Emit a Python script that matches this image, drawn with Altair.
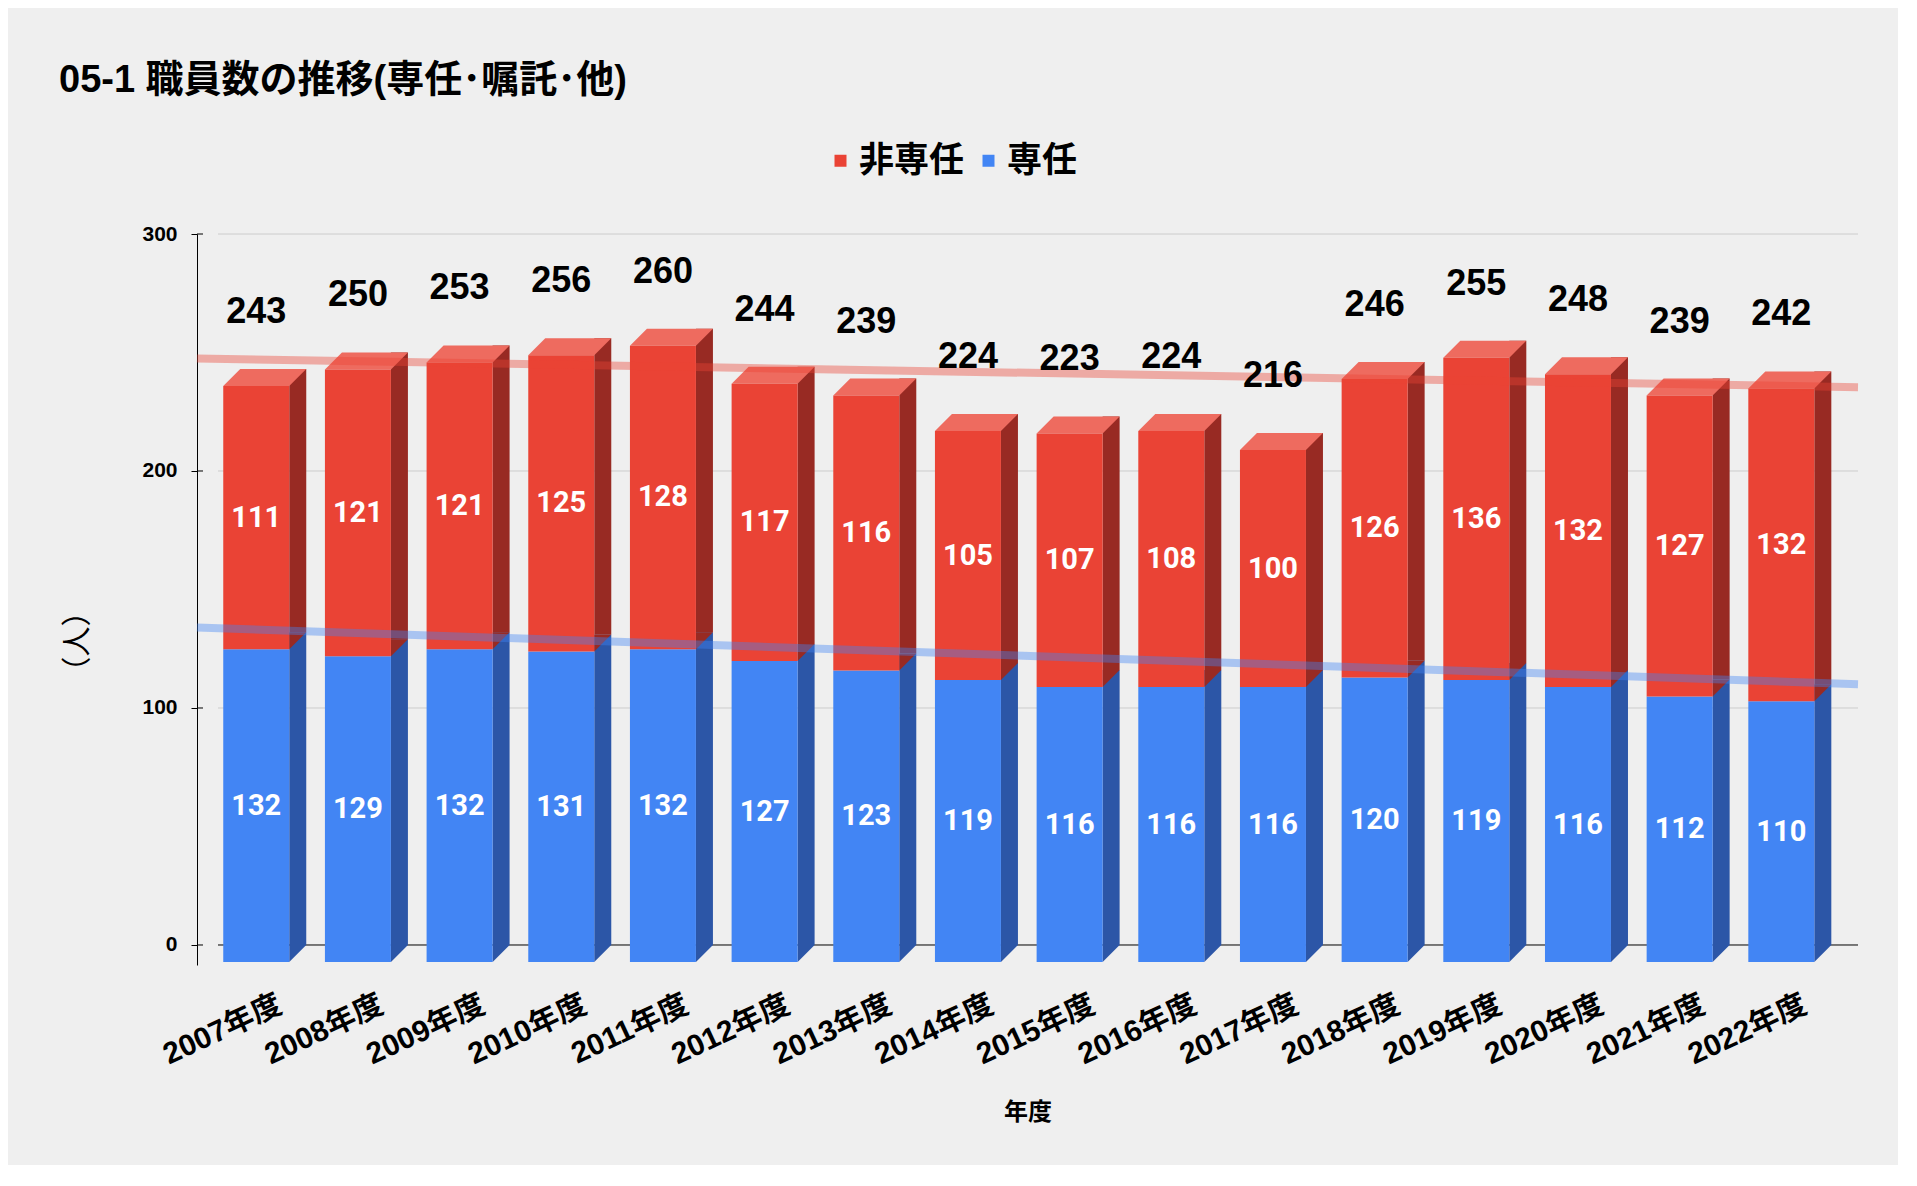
import json
import altair as alt
import pandas as pd

# ---- data ----
years = ["2007年度", "2008年度", "2009年度", "2010年度", "2011年度", "2012年度",
         "2013年度", "2014年度", "2015年度", "2016年度", "2017年度", "2018年度",
         "2019年度", "2020年度", "2021年度", "2022年度"]
full_time = [132, 129, 132, 131, 132, 127, 123, 119, 116, 116, 116, 120, 119, 116, 112, 110]   # 専任
part_time = [111, 121, 121, 125, 128, 117, 116, 105, 107, 108, 100, 126, 136, 132, 127, 132]   # 非専任
series_names = ["非専任", "専任"]
title_text = "05-1 職員数の推移(専任･嘱託･他)"
y_title = "（人）"
x_title = "年度"
y_ticks = [0, 100, 200, 300]

# ---- tables built from the arrays ----
idx = list(range(len(years)))
totals = [a + b for a, b in zip(full_time, part_time)]
wide = pd.DataFrame({"idx": idx, "year": years, "full": full_time,
                     "part": part_time, "total": totals})
rows = []
for i, (f, p) in enumerate(zip(full_time, part_time)):
    rows.append({"idx": i, "series": "専任", "lo": 0, "hi": f, "mid": f / 2, "value": f})
    rows.append({"idx": i, "series": "非専任", "lo": f, "hi": f + p, "mid": f + p / 2, "value": p})
long = pd.DataFrame(rows)
grid_df = pd.DataFrame({"v": y_ticks})

# ---- styling ----
LATIN = "Liberation Sans, Noto Sans CJK JP"
RED, BLUE = "#EA4335", "#4285F4"
RED_SIDE, BLUE_SIDE = "#982A23", "#2C56A7"
RED_TOP = "#EE6B5F"
X_EXT = [-0.75, 15.587]
W, H = 1661, 731

xs = alt.Scale(domain=X_EXT, nice=False, zero=False)
ys = alt.Scale(domain=[-8.44, 300], nice=False, zero=False)

label_expr = json.dumps(years, ensure_ascii=False) + "[datum.value]"

xaxis = alt.Axis(values=idx, labelExpr=label_expr, labelAngle=335, labelAlign="right",
                 labelBaseline="top", labelFont=LATIN, labelFontSize=30,
                 labelFontWeight="bold", labelColor="black", labelPadding=24,
                 labelOverlap=False, labelFlush=False, labelBound=False,
                 domain=False, ticks=False, tickSize=0, grid=False,
                 title=x_title, titleFont=LATIN, titleFontSize=24, titleFontWeight="bold",
                 titleColor="black", titleY=147, titleBaseline="middle")
yaxis = alt.Axis(values=y_ticks, title=y_title, titleFont=LATIN, titleFontSize=30,
                 titleFontWeight="normal", titleColor="black", titleAngle=270,
                 titleX=-120, titleY=407, titleAlign="center", titleBaseline="middle",
                 labelFont=LATIN, labelFontSize=21, labelFontWeight="bold",
                 labelColor="black", labelPadding=14, tickSize=6, tickColor="black",
                 domainColor="black", domainWidth=1, grid=False)


def X():
    return alt.X("idx:Q", scale=xs, axis=xaxis)


def Y(field):
    return alt.Y(field, scale=ys, axis=yaxis)


grid = alt.Chart(grid_df).mark_rule(strokeWidth=1).encode(
    y=Y("v:Q"), x=alt.value(21), x2=alt.value(W),
    color=alt.condition("datum.v === 0", alt.value("black"), alt.value("#CCCCCC")),
)
inner_ticks = alt.Chart(grid_df).mark_rule(strokeWidth=1, color="black").encode(
    y=Y("v:Q"), x=alt.value(0), x2=alt.value(6))

side = alt.Chart(long).mark_rect(xOffset=16, x2Offset=33).encode(
    x=X(), x2="idx:Q",
    y=Y("hi:Q"), y2="lo:Q",
    color=alt.Color("series:N", scale=alt.Scale(domain=series_names, range=[RED_SIDE, BLUE_SIDE]), legend=None),
)

tri = alt.Chart(long).mark_point(shape="M -1 -1 L 1 -1 L -1 1 Z", size=289, filled=True,
                                 opacity=1, strokeWidth=0, xOffset=24.5, yOffset=8.5).encode(
    x=X(), y=Y("lo:Q"),
    color=alt.Color("series:N", scale=alt.Scale(domain=series_names, range=[RED_SIDE, BLUE_SIDE]), legend=None),
)

top = alt.Chart(wide).mark_point(
    shape="M -1 0.2048 L -0.5904 -0.2048 L 1 -0.2048 L 0.5904 0.2048 Z", size=6889,
    filled=True, opacity=1, strokeWidth=0, color=RED_TOP, xOffset=-8.5, yOffset=8.5).encode(
    x=X(), y=Y("total:Q"))

front = alt.Chart(long).mark_rect(xOffset=-50, x2Offset=16, yOffset=17, y2Offset=17).encode(
    x=X(), x2="idx:Q",
    y=Y("hi:Q"), y2="lo:Q",
    color=alt.Color("series:N", scale=alt.Scale(domain=series_names, range=[RED, BLUE]),
                    legend=alt.Legend(orient="none", legendX=626, legendY=-91, direction="horizontal",
                                      title=None, symbolType="square", symbolSize=144,
                                      symbolStrokeWidth=0, labelFont=LATIN, labelFontSize=35,
                                      labelFontWeight="bold", labelColor="black", labelOffset=1,
                                      columnPadding=6, padding=0)),
)

trend_total = alt.Chart(wide).transform_regression("idx", "total", extent=X_EXT).mark_line(
    color=RED, opacity=0.4, strokeWidth=8).encode(x=X(), y=Y("total:Q"))
trend_full = alt.Chart(wide).transform_regression("idx", "full", extent=X_EXT).mark_line(
    color=BLUE, opacity=0.4, strokeWidth=8).encode(x=X(), y=Y("full:Q"))

inner = alt.Chart(long).mark_text(color="white", font="Roboto", fontWeight="bold", fontSize=29,
                                  baseline="middle", dx=-17, dy=17).encode(
    x=X(), y=Y("mid:Q"), text="value:Q")

tot = alt.Chart(wide).mark_text(color="black", font=LATIN, fontWeight="bold", fontSize=36,
                                baseline="middle", dx=-17, dy=-57).encode(
    x=X(), y=Y("total:Q"), text="total:Q")

title = alt.Chart(pd.DataFrame({"t": [title_text]})).mark_text(
    align="left", baseline="middle", font=LATIN, fontWeight="bold", fontSize=38, color="black").encode(
    x=alt.value(-138), y=alt.value(-153), text="t:N")

chart = alt.layer(grid, inner_ticks, side, tri, top, front, trend_total, trend_full, inner, tot, title).resolve_scale(
    color="independent"
).properties(
    width=W, height=H,
    autosize=alt.AutoSizeParams(type="none"),
    padding={"left": 189, "top": 226, "right": 40, "bottom": 200},
    background="#EFEFEF",
).configure_view(stroke=None)

chart.save("out.html", embed_options={"renderer": "svg", "actions": False})
